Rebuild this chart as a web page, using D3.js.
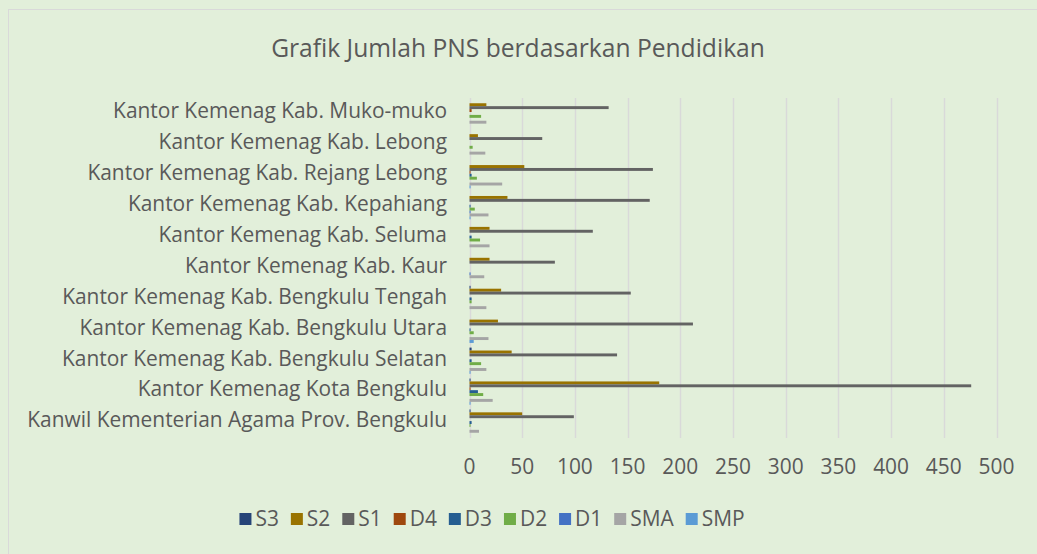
<!DOCTYPE html>
<html>
<head>
<meta charset="utf-8">
<script src="https://cdn.jsdelivr.net/npm/d3@7"></script>
<style>
  html, body { margin: 0; padding: 0; background: #E2EFDA; }
  text { font-family: "Open Sans", "Noto Sans", sans-serif; fill: #595959; }
</style>
</head>
<body>
<svg id="chart" width="1037" height="554"></svg>
<script>
// categories, top to bottom as shown
var categories = [
  "Kantor Kemenag Kab. Muko-muko",
  "Kantor Kemenag Kab. Lebong",
  "Kantor Kemenag Kab. Rejang Lebong",
  "Kantor Kemenag Kab. Kepahiang",
  "Kantor Kemenag Kab. Seluma",
  "Kantor Kemenag Kab. Kaur",
  "Kantor Kemenag Kab. Bengkulu Tengah",
  "Kantor Kemenag Kab. Bengkulu Utara",
  "Kantor Kemenag Kab. Bengkulu Selatan",
  "Kantor Kemenag Kota Bengkulu",
  "Kanwil Kementerian Agama Prov. Bengkulu"
];
var seriesNames = ["S3", "S2", "S1", "D4", "D3", "D2", "D1", "SMA", "SMP"];
var seriesColors = ["#264478", "#997300", "#636363", "#9E480E", "#255E91", "#70AD47", "#4472C4", "#A5A5A5", "#5B9BD5"];

var S3  = [0, 0, 0, 0, 0, 0, 1, 0, 2, 1, 1];
var S2  = [16, 8, 52, 36, 19, 19, 30, 27, 40, 180, 50];
var S1  = [132, 69, 174, 171, 117, 81, 153, 212, 140, 476, 99];
var D4  = [2, 0, 1, 0, 0, 0, 0, 0, 0, 1, 0];
var D3  = [0, 0, 2, 1, 2, 0, 2, 1, 2, 8, 2];
var D2  = [11, 3, 7, 5, 10, 0, 2, 4, 11, 13, 1];
var D1  = [0, 0, 0, 1, 0, 1, 0, 0, 0, 0, 0];
var SMA = [16, 15, 31, 18, 19, 14, 16, 18, 16, 22, 9];
var SMP = [0, 0, 1, 1, 0, 0, 0, 4, 1, 1, 0];
var seriesValues = [S3, S2, S1, D4, D3, D2, D1, SMA, SMP];

var xTicks = [0, 50, 100, 150, 200, 250, 300, 350, 400, 450, 500];

var svg = d3.select('#chart');

// chart area border (only top and left edges are inside the picture)
svg.append('rect')
  .attr('x', 8.5).attr('y', 9.5)
  .attr('width', 1100).attr('height', 600)
  .attr('fill', '#E2EFDA')
  .attr('stroke', '#D9D9D9');

// fit a text element's font size so it spans the given width
function fitText(sel, width) {
  var w = sel.node().getComputedTextLength();
  var fs = parseFloat(sel.attr('font-size'));
  sel.attr('font-size', (fs * width / w).toFixed(2));
}

var title = svg.append('text')
  .attr('x', 518).attr('y', 57)
  .attr('text-anchor', 'middle')
  .attr('font-size', 20)
  .text('Grafik Jumlah PNS berdasarkan Pendidikan');
fitText(title, 494);

var x = d3.scaleLinear().domain([0, 500]).range([469.5, 996.5]);
var y = d3.scaleBand().domain(categories).range([98, 438]).paddingInner(0).paddingOuter(0);
var ySub = d3.scaleBand().domain(seriesNames).range([0, y.bandwidth()]).paddingInner(0).paddingOuter(0.8);

// gridlines
svg.append('g')
  .selectAll('line')
  .data(xTicks)
  .join('line')
  .attr('x1', d => Math.round(x(d)) + 0.5)
  .attr('x2', d => Math.round(x(d)) + 0.5)
  .attr('y1', 98).attr('y2', 438)
  .attr('stroke', '#D9D9D9')
  .attr('stroke-width', 1.5);

// measure label font size with the longest label
var probe = svg.append('text').attr('font-size', 16).text(categories[10]);
fitText(probe, 420);
var labelSize = probe.attr('font-size');
probe.remove();

svg.append('g')
  .selectAll('text')
  .data(categories)
  .join('text')
  .attr('x', 447)
  .attr('y', d => y(d) + y.bandwidth() / 2 - 2.5)
  .attr('dy', '0.35em')
  .attr('text-anchor', 'end')
  .attr('font-size', labelSize)
  .text(d => d);

// x tick labels
svg.append('g')
  .selectAll('text')
  .data(xTicks)
  .join('text')
  .attr('x', d => x(d))
  .attr('y', 467)
  .attr('dy', '0.35em')
  .attr('text-anchor', 'middle')
  .attr('font-size', labelSize)
  .text(d => d);

// bars
seriesNames.forEach((s, si) => {
  svg.append('g')
    .attr('fill', seriesColors[si])
    .selectAll('rect')
    .data(categories.map((c, ci) => ({c: c, v: seriesValues[si][ci]})))
    .join('rect')
    .attr('x', x(0))
    .attr('y', d => y(d.c) + ySub(s))
    .attr('width', d => x(d.v) - x(0))
    .attr('height', ySub.bandwidth());
});

// legend
var legend = svg.append('g');
var lx = 0;
var legendGap = 12;
seriesNames.forEach((s, si) => {
  var g = legend.append('g').attr('transform', 'translate(' + lx + ',0)');
  g.append('rect')
    .attr('x', 0).attr('y', 513)
    .attr('width', 12).attr('height', 12)
    .attr('fill', seriesColors[si]);
  var t = g.append('text')
    .attr('x', 16).attr('y', 519)
    .attr('dy', '0.35em')
    .attr('font-size', labelSize)
    .text(s);
  lx += 16 + t.node().getComputedTextLength() + legendGap;
});
var legendW = lx - legendGap;
legend.attr('transform', 'translate(' + (492 - legendW / 2) + ',0)');
</script>
</body>
</html>
